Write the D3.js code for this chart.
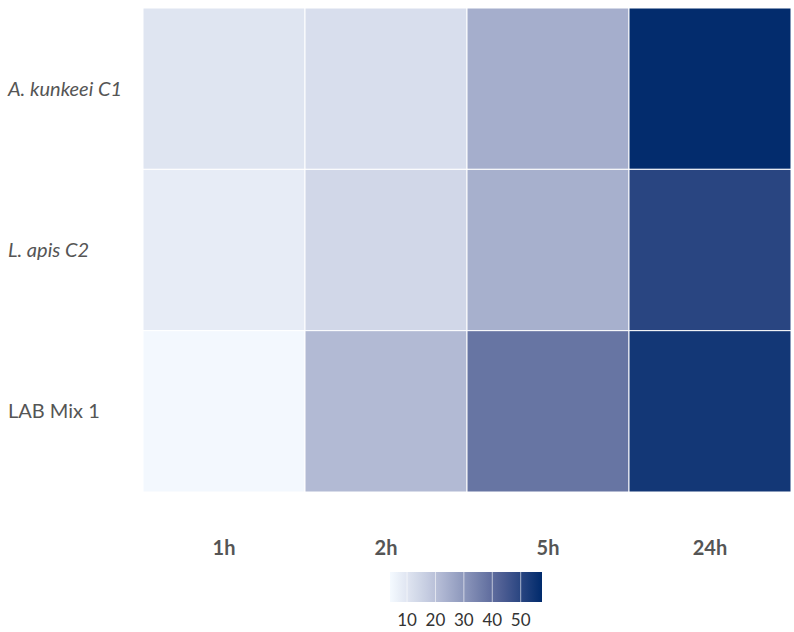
<!DOCTYPE html>
<html>
<head>
<meta charset="utf-8">
<script src="https://cdn.jsdelivr.net/npm/d3@7"></script>
<style>
  body { margin: 0; background: #fff; }
  text { font-family: Lato, "Open Sans", sans-serif; }
</style>
</head>
<body>
<svg id="chart" width="794" height="632"></svg>
<script>
const strains = ["A. kunkeei C1", "L. apis C2", "LAB Mix 1"];
const italicRows = ["A. kunkeei C1", "L. apis C2"];
const timepoints = ["1h", "2h", "5h", "24h"];
const values = [
    [10, 12, 24.5, 57],
    [8, 14, 24, 50],
    [4.5, 21.5, 38, 54]
];
const legendTicks = [10, 20, 30, 40, 50];
const legendDomain = [4, 57.5];

const svg = d3.select("#chart");

const x = d3.scaleBand().domain(timepoints).range([143, 791]);
const y = d3.scaleBand().domain(strains).range([8, 492]);

const color = d3.scaleLinear()
    .domain([4, 17, 30, 43, 57.5])
    .range(["#f5faff", "#c6cde1", "#8d97bc", "#505f94", "#002a6c"])
    .clamp(true);

const cells = [];
strains.forEach((s, i) => timepoints.forEach((t, j) => cells.push({strain: s, time: t, value: values[i][j]})));

svg.append("g").selectAll("rect")
    .data(cells)
    .join("rect")
    .attr("x", d => x(d.time))
    .attr("y", d => y(d.strain))
    .attr("width", x.bandwidth())
    .attr("height", y.bandwidth())
    .attr("fill", d => color(d.value))
    .attr("stroke", "#fff")
    .attr("stroke-width", 1);

// row labels
svg.append("g").selectAll("text")
    .data(strains)
    .join("text")
    .attr("x", 8)
    .attr("y", d => y(d) + y.bandwidth() / 2)
    .attr("dy", "0.35em")
    .attr("fill", "#555")
    .attr("font-size", "20px")
    .attr("font-style", d => italicRows.includes(d) ? "italic" : "normal")
    .text(d => d);

// column labels
svg.append("g").selectAll("text")
    .data(timepoints)
    .join("text")
    .attr("x", d => x(d) + x.bandwidth() / 2)
    .attr("y", 548)
    .attr("dy", "0.35em")
    .attr("text-anchor", "middle")
    .attr("fill", "#555")
    .attr("font-size", "20px")
    .attr("font-weight", "bold")
    .text(d => d);

// colour legend
const lx = d3.scaleLinear().domain(legendDomain).range([390, 542]);
const grad = svg.append("defs").append("linearGradient").attr("id", "lg");
d3.range(0, 1.0001, 0.05).forEach(t => {
    const v = legendDomain[0] + t * (legendDomain[1] - legendDomain[0]);
    grad.append("stop").attr("offset", t).attr("stop-color", color(v));
});
const legend = svg.append("g");
legend.append("rect")
    .attr("x", lx(legendDomain[0]))
    .attr("y", 572)
    .attr("width", lx(legendDomain[1]) - lx(legendDomain[0]))
    .attr("height", 30)
    .attr("fill", "url(#lg)");
legend.selectAll("line.tk")
    .data(legendTicks)
    .join("line")
    .attr("class", "tk")
    .attr("x1", d => lx(d))
    .attr("x2", d => lx(d))
    .attr("y1", 572)
    .attr("y2", 602)
    .attr("stroke", "#fff")
    .attr("stroke-opacity", 0.6)
    .attr("stroke-width", 1);
legend.selectAll("text")
    .data(legendTicks)
    .join("text")
    .attr("x", d => lx(d))
    .attr("y", 620)
    .attr("dy", "0.35em")
    .attr("text-anchor", "middle")
    .attr("fill", "#333")
    .attr("font-size", "17px")
    .text(d => d);
</script>
</body>
</html>
